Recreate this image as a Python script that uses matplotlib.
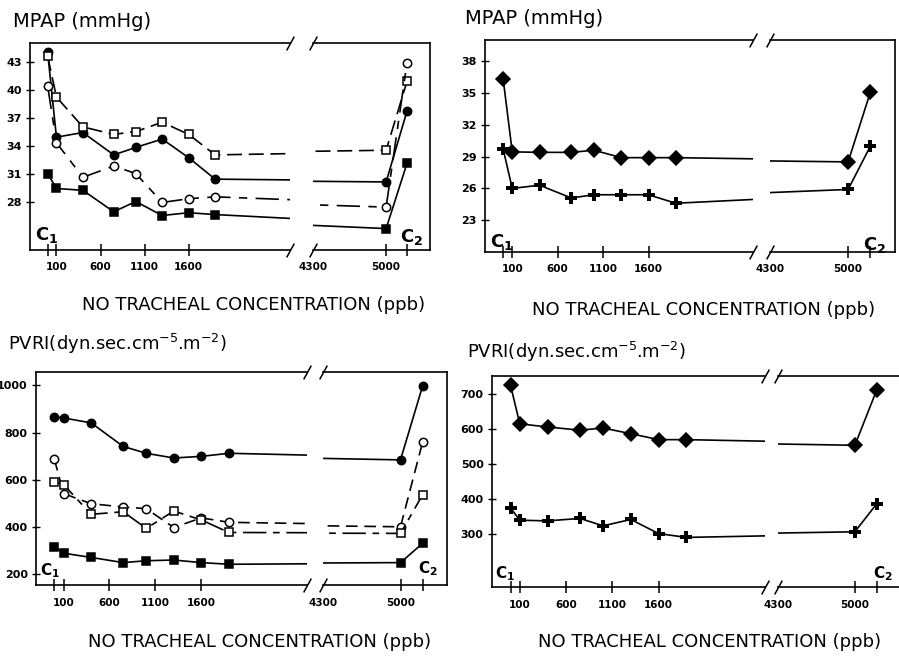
import numpy as np
import matplotlib.pyplot as plt

W, H = 899, 656

# NO concentration (ppb); first point = C1, last point = C2
conc = [0, 100, 400, 750, 1000, 1300, 1600, 1900, 5000, 5200]

# MPAP (mmHg), left panel
mpap_fc = [44.0, 34.9, 35.4, 33.0, 33.8, 34.7, 32.7, 30.4, 30.1, 37.7]
mpap_os = [43.6, 39.2, 36.0, 35.2, 35.5, 36.5, 35.2, 33.0, 33.5, 40.9]
mpap_oc = [40.4, 34.3, 30.6, 31.8, 31.0, 27.9, 28.3, 28.5, 27.4, 42.9]
mpap_fs = [31.0, 29.4, 29.2, 26.9, 28.0, 26.5, 26.8, 26.6, 25.1, 32.1]

# MPAP (mmHg), right panel
mpap_dia = [36.3, 29.45, 29.4, 29.4, 29.6, 28.9, 28.9, 28.9, 28.5, 35.1]
mpap_plus = [29.7, 26.0, 26.3, 25.1, 25.4, 25.4, 25.4, 24.6, 25.9, 30.0]

# PVRI, left panel
pvri_fc = [867, 862, 841, 741, 712, 692, 699, 712, 684, 998]
pvri_oc = [687, 541, 498, 484, 477, 397, 438, 419, 400, 760]
pvri_os = [590, 579, 453, 464, 393, 467, 429, 376, 372, 536]
pvri_fs = [316, 288, 270, 248, 256, 259, 248, 241, 248, 330]

# PVRI, right panel
pvri_dia = [724, 614, 605, 596, 602, 586, 569, 569, 553, 711]
pvri_plus = [375, 340, 338, 345, 324, 342, 302, 291, 307, 387]

xticks_left = [0, 100, 600, 1100, 1600]
xlabels_left = ['', '100', '600', '1100', '1600']
xticks_right = [5000, 5200]
xlabels_right = ['5000', '']

XL = (-200, 2750)
XR = (4300, 5420)

fig = plt.figure(figsize=(W / 100, H / 100), dpi=100)


def fx(x):
    return x / W


def fy(y):
    return 1 - y / H


def panel(box, brk, ylim, yticks):
    L, T, R, B = box
    bl, br = brk
    axl = fig.add_axes([fx(L), fy(B), (bl - L) / W, (B - T) / H])
    axr = fig.add_axes([fx(br), fy(B), (R - br) / W, (B - T) / H])
    for ax in (axl, axr):
        ax.set_ylim(*ylim)
        for s in ax.spines.values():
            s.set_linewidth(1.2)
        ax.tick_params(axis='x', direction='inout', length=8, width=1.1,
                       labelsize=7.5, pad=5)
        ax.tick_params(axis='y', direction='inout', length=6, width=1.0,
                       labelsize=8, pad=3)
    axl.set_xlim(*XL)
    axr.set_xlim(*XR)
    axl.spines['right'].set_visible(False)
    axr.spines['left'].set_visible(False)
    axl.set_yticks(yticks)
    axl.set_yticklabels([str(v) for v in yticks], fontweight='bold')
    axr.tick_params(axis='y', left=False, labelleft=False)
    axl.set_xticks(xticks_left)
    axl.set_xticklabels(xlabels_left, fontweight='bold')
    axr.set_xticks(xticks_right)
    axr.set_xticklabels(xlabels_right, fontweight='bold')
    axr.set_xticks([4300], minor=True)
    axr.set_xticklabels(['4300'], minor=True, fontweight='bold')
    axr.tick_params(axis='x', which='minor', length=0, labelsize=7.5, pad=9)

    kw = dict(marker=[(-0.55, -1), (0.55, 1)], markersize=10, linestyle='none',
              color='k', mec='k', mew=1.1, clip_on=False)
    axl.plot([1, 1], [0, 1], transform=axl.transAxes, **kw)
    axr.plot([0, 0], [0, 1], transform=axr.transAxes, **kw)
    return axl, axr


def series(axes, y, marker, filled, ls='-', ms=6, mew=1.1):
    for ax in axes:
        ax.plot(conc, y, color='k', lw=1.2, linestyle=ls, marker=marker,
                ms=ms, mfc='k' if filled else 'white', mec='k', mew=mew,
                zorder=3)


def clabels(c1, c2, size):
    fig.text(fx(c1[0]), fy(c1[1]), r'$\mathbf{C_1}$', fontsize=size, va='baseline')
    fig.text(fx(c2[0]), fy(c2[1]), r'$\mathbf{C_2}$', fontsize=size, va='baseline')


# top-left: MPAP
tl = panel((30, 43, 430, 250), (290, 313), (22.8, 45.0), [28, 31, 34, 37, 40, 43])
series(tl, mpap_fc, 'o', True)
series(tl, mpap_os, 's', False, ls=(0, (9, 4)))
series(tl, mpap_oc, 'o', False, ls=(0, (14, 5, 5, 5)))
series(tl, mpap_fs, 's', True)
clabels((35, 240), (400, 242), 13)

# top-right: MPAP
tr = panel((485, 40, 895, 252), (753, 770), (20, 40), [23, 26, 29, 32, 35, 38])
series(tr, mpap_dia, 'D', True, ms=7.5)
series(tr, mpap_plus, 'P', True, ms=8.5, mew=0)
clabels((490, 247), (863, 250), 13)

# bottom-left: PVRI
bl = panel((36, 372, 447, 585), (307, 323), (153, 1057), [200, 400, 600, 800, 1000])
series(bl, pvri_fc, 'o', True)
series(bl, pvri_oc, 'o', False, ls=(0, (7, 4)))
series(bl, pvri_os, 's', False, ls=(0, (14, 4, 4, 4)))
series(bl, pvri_fs, 's', True)
clabels((40, 575), (418, 573), 11)

# bottom-right: PVRI
br = panel((492, 376, 901, 587), (765, 778), (150, 750), [300, 400, 500, 600, 700])
series(br, pvri_dia, 'D', True, ms=7.5)
series(br, pvri_plus, 'P', True, ms=8.5, mew=0)
clabels((495, 578), (873, 578), 11)

# titles and axis labels
fig.text(fx(13), fy(27), 'MPAP (mmHg)', fontsize=14, va='baseline')
fig.text(fx(465), fy(24), 'MPAP (mmHg)', fontsize=14, va='baseline')
fig.text(fx(8), fy(350), r'PVRI(dyn.sec.cm$^{-5}$.m$^{-2}$)', fontsize=13, va='baseline')
fig.text(fx(467), fy(358), r'PVRI(dyn.sec.cm$^{-5}$.m$^{-2}$)', fontsize=13, va='baseline')

xlab = 'NO TRACHEAL CONCENTRATION (ppb)'
fig.text(fx(82), fy(310), xlab, fontsize=13, va='baseline')
fig.text(fx(532), fy(315), xlab, fontsize=13, va='baseline')
fig.text(fx(88), fy(647), xlab, fontsize=13, va='baseline')
fig.text(fx(538), fy(647), xlab, fontsize=13, va='baseline')

fig.savefig('out.png', dpi=100)
